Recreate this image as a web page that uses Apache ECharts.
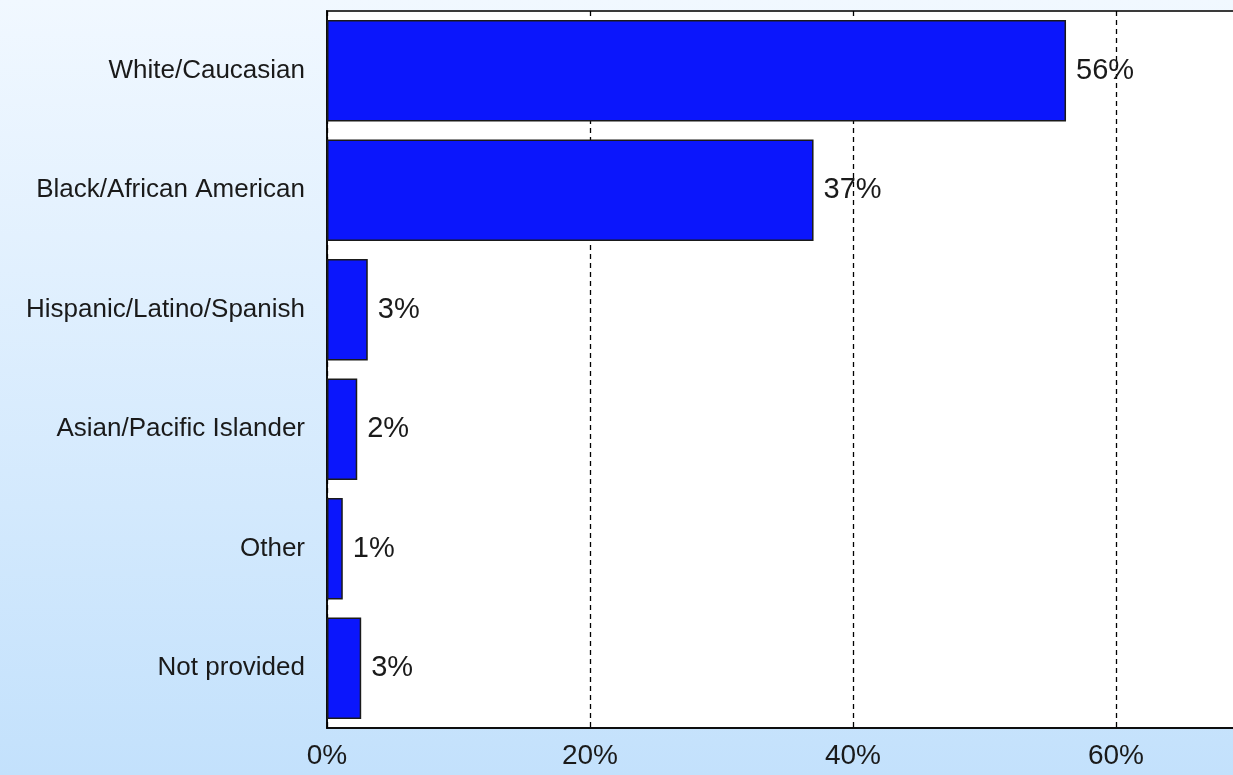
<!DOCTYPE html>
<html>
<head>
<meta charset="utf-8">
<script src="https://cdn.jsdelivr.net/npm/echarts@6/dist/echarts.min.js"></script>
<style>
html,body{margin:0;padding:0;}
#chart{width:1233px;height:775px;}
</style>
</head>
<body>
<div id="chart"></div>
<script>
const categories = ["White/Caucasian", "Black/African American", "Hispanic/Latino/Spanish", "Asian/Pacific Islander", "Other", "Not provided"];
const values = [56.2, 37.0, 3.1, 2.3, 1.2, 2.6];
const xTicks = [0, 20, 40, 60, 80];

const FONT = "'Liberation Sans', Arial, sans-serif";
const chart = echarts.init(document.getElementById('chart'));
chart.setOption({
  animation: false,
  backgroundColor: {
    type: 'linear', x: 0, y: 0, x2: 0, y2: 1,
    colorStops: [{offset: 0, color: '#f1f8ff'}, {offset: 1, color: '#c3e1fc'}]
  },
  grid: {
    left: 327, top: 11, bottom: 47, right: -146,
    outerBoundsMode: 'none', containLabel: false,
    show: true, backgroundColor: '#ffffff', borderColor: '#3a3a3a', borderWidth: 2
  },
  xAxis: {
    type: 'value', min: xTicks[0], max: xTicks[xTicks.length - 1], interval: 20,
    axisLine: {show: true, lineStyle: {color: '#000', width: 1.5}},
    axisTick: {show: false},
    splitLine: {show: true, lineStyle: {color: '#000', type: [5, 4], width: 1.3}},
    axisLabel: {
      formatter: v => v + '%', fontFamily: FONT, fontSize: 28,
      color: '#1a1a1a', margin: 14
    }
  },
  yAxis: {
    type: 'category', data: categories, inverse: true,
    axisLine: {show: true, lineStyle: {color: '#000', width: 1.5}},
    axisTick: {show: false},
    axisLabel: {fontFamily: FONT, fontSize: 26, color: '#1a1a1a', margin: 22}
  },
  series: [{
    type: 'bar',
    data: values,
    barWidth: '85%',
    itemStyle: {color: '#0b16fc', borderColor: '#1a1a1a', borderWidth: 1.5},
    label: {
      show: true, position: 'right', distance: 10,
      formatter: p => Math.round(p.value) + '%',
      fontFamily: FONT, fontSize: 29, color: '#1a1a1a'
    }
  }]
});
</script>
</body>
</html>
